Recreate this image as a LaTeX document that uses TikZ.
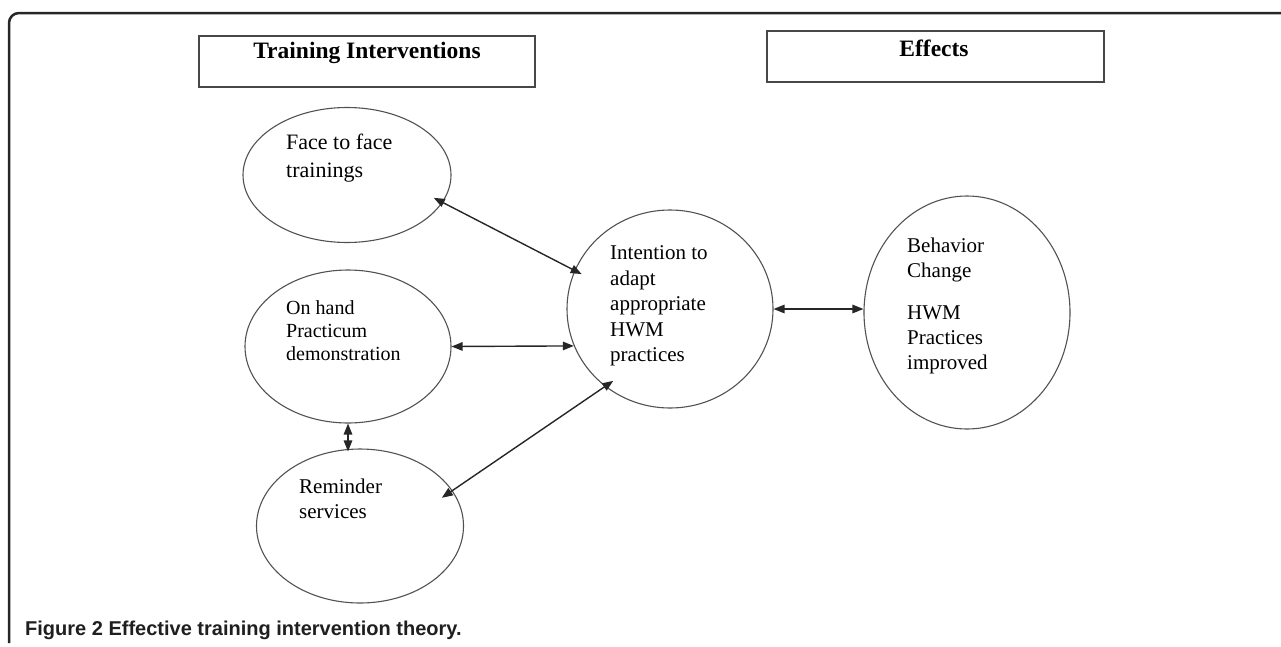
\documentclass[tikz,border=0pt]{standalone}
\usepackage{fontspec}
\setmainfont{Liberation Serif}
\newfontfamily\capfont{Liberation Sans}
\usepackage{tikz}
\usetikzlibrary{shapes.geometric, arrows.meta, positioning}

\begin{document}
\begin{tikzpicture}[x=1pt, y=-1pt,
  >={Triangle[length=11pt,width=8.5pt]},
  bubble/.style={draw=black!68, line width=1.1pt, ellipse, inner sep=0pt},
  headbox/.style={draw=black!72, line width=1.6pt, minimum width=336pt, minimum height=51pt},
  txt/.style={anchor=north west, inner sep=0pt, align=left, font=\fontsize{21}{25.5}\selectfont},
  link/.style={<->, draw=black!85, line width=1.4pt}]
\useasboundingbox (0,0) rectangle (1281,646);
\draw[black!85, line width=2.5pt, rounded corners=10pt](9,643)--(9,13)--(1281,13);
% headings
\node[headbox] (trbox) at (367,61.5) {};
\node[font=\fontsize{23.5}{28}\selectfont\bfseries] (trtitle) at (367,53) {Training Interventions};
\node[headbox, minimum width=337pt] (efbox) at (935.5,56.5) {};
\node[font=\fontsize{23.5}{28}\selectfont\bfseries] (eftitle) at (934,48) {Effects};
% ellipses
\node[bubble, minimum width=208pt, minimum height=135pt] (face) at (347,175) {};
\node[bubble, minimum width=206pt, minimum height=153pt] (onhand) at (348,346.5) {};
\node[bubble, minimum width=207pt, minimum height=154pt] (remind) at (360,526) {};
\node[bubble, minimum width=206pt, minimum height=198pt] (intent) at (670,309) {};
\node[bubble, minimum width=206pt, minimum height=233pt] (behav) at (967,312.5) {};
% texts
\node[txt, font=\fontsize{22}{28}\selectfont] (facetxt) at (286,134) {Face to face\\trainings};
\node[txt, font=\fontsize{20}{23}\selectfont] (onhandtxt) at (286,300) {On hand\\Practicum\\demonstration};
\node[txt] (remindtxt) at (299,478.5) {Reminder\\services};
\node[txt] (intenttxt) at (610,245.5) {Intention to\\adapt\\appropriate\\HWM\\practices};
\node[txt, font=\fontsize{21}{25}\selectfont] (behavtxt) at (907,237.5) {Behavior\\Change\\[17pt]HWM\\Practices\\improved};
% arrows
\draw[link, shorten <=-10pt, shorten >=-8pt](face.-16.4)--(intent.158.8);
\draw[link](onhand.east)--(intent.201);
\draw[link, shorten >=-3pt](onhand.south)--(onhand.south |- remind.north);
\draw[link, shorten <=-13pt, shorten >=-10pt](remind.21.5)--(intent.230.9);
\draw[link](intent.east)--(intent.east -| behav.west);
% caption
\node[anchor=west, inner sep=0pt, font=\capfont\bfseries\fontsize{20}{23}\selectfont, text=black!88] (caption) at (25,630) {Figure 2 Effective training intervention theory.};
\end{tikzpicture}
\end{document}
